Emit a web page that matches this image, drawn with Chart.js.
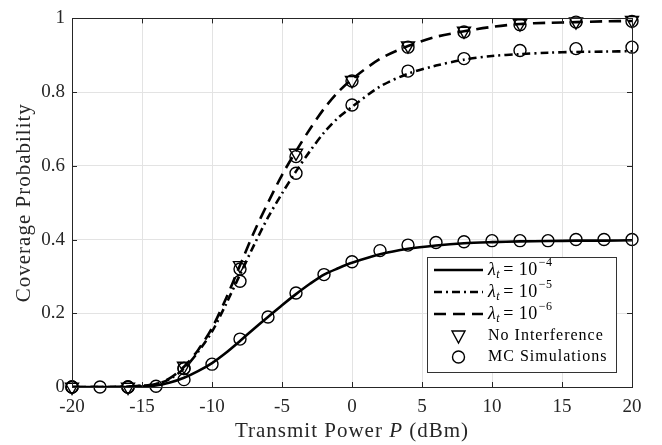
<!DOCTYPE html>
<html lang="en">
<head>
  <meta charset="UTF-8" />
  <title>Coverage Probability vs Transmit Power</title>
  <script src="https://cdn.jsdelivr.net/npm/chart.js"></script>
  <style>
    html, body { margin: 0; padding: 0; background: #fff; }
    #wrap { width: 662px; height: 445px; }
  </style>
</head>
<body>
<div id="wrap"><canvas id="cov" width="662" height="445"></canvas></div>
<script>
// theory curves
const xTheory = [-20, -18, -16, -14, -13, -12, -11, -10, -9, -8, -7, -6, -5, -4, -3, -2, -1, 0, 2, 4, 6, 8, 10, 12, 14, 16, 18, 20];
const lambda4 = [0, 0, 0, 0.004, 0.012, 0.025, 0.043, 0.065, 0.093, 0.125, 0.158, 0.19, 0.222, 0.252, 0.28, 0.305, 0.322, 0.337, 0.36, 0.375, 0.384, 0.39, 0.393, 0.395, 0.396, 0.397, 0.397, 0.398];
const lambda5 = [0, 0, 0.001, 0.008, 0.022, 0.05, 0.095, 0.15, 0.225, 0.305, 0.385, 0.46, 0.525, 0.585, 0.64, 0.69, 0.73, 0.76, 0.815, 0.85, 0.872, 0.888, 0.898, 0.903, 0.907, 0.909, 0.91, 0.911];
const lambda6 = [0, 0, 0.001, 0.008, 0.024, 0.055, 0.1, 0.16, 0.24, 0.33, 0.42, 0.5, 0.575, 0.64, 0.7, 0.755, 0.8, 0.835, 0.89, 0.925, 0.95, 0.965, 0.977, 0.985, 0.988, 0.99, 0.992, 0.993];

// simulation / no-interference markers
const xSim4 = [-20, -18, -16, -14, -12, -10, -8, -6, -4, -2, 0, 2, 4, 6, 8, 10, 12, 14, 16, 18, 20];
const sim4 = [0, 0, 0, 0.002, 0.02, 0.062, 0.13, 0.19, 0.255, 0.305, 0.34, 0.37, 0.385, 0.392, 0.394, 0.397, 0.397, 0.397, 0.4, 0.4, 0.4];
const xSim = [-20, -16, -12, -8, -4, 0, 4, 8, 12, 16, 20];
const sim5 = [0, 0, 0.05, 0.287, 0.58, 0.765, 0.857, 0.891, 0.913, 0.918, 0.922];
const sim6 = [0, 0, 0.05, 0.32, 0.625, 0.83, 0.922, 0.963, 0.983, 0.99, 0.992];
const noInterf = [0, 0, 0.057, 0.33, 0.635, 0.832, 0.926, 0.966, 0.986, 0.991, 0.995];

const xTicks = [-20, -15, -10, -5, 0, 5, 10, 15, 20];
const yTicks = [0, 0.2, 0.4, 0.6, 0.8, 1];

const FONT = '"Liberation Serif", "DejaVu Serif", serif';
const INK = '#262626';

const pts = (xs, ys) => xs.map((x, i) => ({ x, y: ys[i] }));

const lineDs = (label, ys, dash) => ({
  label, data: pts(xTheory, ys), borderColor: '#000', borderWidth: 2.6,
  borderDash: dash, pointRadius: 0, fill: false, tension: 0.3, order: 2
});
const markDs = (label, xs, ys, style) => ({
  label, data: pts(xs, ys), showLine: false, pointStyle: style,
  pointRotation: style === 'triangle' ? 180 : 0,
  pointRadius: style === 'triangle' ? 7.5 : 6, pointBorderWidth: 1.4,
  pointBorderColor: '#000', pointBackgroundColor: 'rgba(0,0,0,0)', order: 1, clip: false
});

// draws text in pieces [text, font, dy]
const drawRuns = (ctx, runs, x, y) => {
  runs.forEach(r => {
    ctx.font = r[1];
    ctx.fillText(r[0], x, y + (r[2] || 0));
    x += ctx.measureText(r[0]).width + (r[3] || 0);
  });
  return x;
};
const runsWidth = (ctx, runs) => runs.reduce((w, r) => { ctx.font = r[1]; return w + ctx.measureText(r[0]).width + (r[3] || 0); }, 0);

// inward ticks, top/right box, axis titles and the boxed legend
const decor = {
  id: 'decor',
  afterDraw(chart) {
    const { ctx, chartArea: a, scales } = chart;
    ctx.save();
    ctx.strokeStyle = INK;
    ctx.lineWidth = 1;
    ctx.beginPath();
    xTicks.forEach(v => {
      const px = Math.round(scales.x.getPixelForValue(v)) + 0.5;
      ctx.moveTo(px, a.bottom); ctx.lineTo(px, a.bottom - 5);
      ctx.moveTo(px, a.top); ctx.lineTo(px, a.top + 5);
    });
    yTicks.forEach(v => {
      const py = Math.round(scales.y.getPixelForValue(v)) + 0.5;
      ctx.moveTo(a.left, py); ctx.lineTo(a.left + 5, py);
      ctx.moveTo(a.right, py); ctx.lineTo(a.right - 5, py);
    });
    ctx.stroke();
    ctx.strokeRect(Math.round(a.left) + 0.5, Math.round(a.top) + 0.5, Math.round(a.right - a.left), Math.round(a.bottom - a.top));

    // axis titles
    ctx.fillStyle = INK;
    ctx.textBaseline = 'alphabetic';
    ctx.letterSpacing = '1px';
    const f = '21px ' + FONT;
    const xt = [['Transmit Power ', f], ['P', 'italic ' + f], [' (dBm)', f]];
    drawRuns(ctx, xt, (a.left + a.right) / 2 - runsWidth(ctx, xt) / 2, 437);
    const yt = [['Coverage Probability', f]];
    ctx.save();
    ctx.translate(30, (a.top + a.bottom) / 2);
    ctx.rotate(-Math.PI / 2);
    drawRuns(ctx, yt, -runsWidth(ctx, yt) / 2, 0);
    ctx.restore();

    // legend
    const bx = 427.5, by = 257.5, bw = 189, bh = 115;
    ctx.fillStyle = '#fff';
    ctx.fillRect(bx, by, bw, bh);
    ctx.strokeStyle = '#333';
    ctx.strokeRect(bx, by, bw, bh);
    const rows = [270, 292, 314, 336, 357];
    const x0 = 434, x1 = 483, tx0 = 488;
    const dashes = [[], [8, 4, 2, 4], [12, 7]];
    const exps = ['\u22124', '\u22125', '\u22126'];
    ctx.strokeStyle = '#000';
    ctx.fillStyle = '#000';
    ctx.textBaseline = 'middle';
    ctx.letterSpacing = '0.5px';
    for (let i = 0; i < 3; i++) {
      const y = rows[i];
      ctx.lineWidth = 2.6;
      ctx.setLineDash(dashes[i]);
      ctx.beginPath(); ctx.moveTo(x0, y); ctx.lineTo(x1, y); ctx.stroke();
      ctx.setLineDash([]);
      drawRuns(ctx, [
        ['\u03bb', 'italic 18px ' + FONT, 0],
        ['t', 'italic 12px ' + FONT, 5, 3],
        ['= 10', '18px ' + FONT, 0, 1],
        [exps[i], '12px ' + FONT, -7]
      ], tx0, y);
    }
    const mx = (x0 + x1) / 2;
    ctx.lineWidth = 1.4;
    ctx.beginPath();
    ctx.moveTo(mx - 6.5, rows[3] - 5); ctx.lineTo(mx + 6.5, rows[3] - 5); ctx.lineTo(mx, rows[3] + 7); ctx.closePath(); ctx.stroke();
    ctx.beginPath(); ctx.arc(mx, rows[4], 6, 0, Math.PI * 2); ctx.stroke();
    ctx.letterSpacing = '1px';
    ctx.font = '16px ' + FONT;
    ctx.fillText('No Interference', tx0, rows[3]);
    ctx.fillText('MC Simulations', tx0, rows[4]);
    ctx.restore();
  }
};

new Chart(document.getElementById('cov'), {
  type: 'line',
  data: {
    datasets: [
      lineDs('\u03bbt = 10^-4', lambda4, []),
      lineDs('\u03bbt = 10^-5', lambda5, [8, 4, 2, 4]),
      lineDs('\u03bbt = 10^-6', lambda6, [12, 7]),
      markDs('No Interference', xSim, noInterf, 'triangle'),
      markDs('MC Simulations', xSim4, sim4, 'circle'),
      markDs('MC Simulations 5', xSim, sim5, 'circle'),
      markDs('MC Simulations 6', xSim, sim6, 'circle')
    ]
  },
  options: {
    responsive: false,
    animation: false,
    layout: { padding: { top: 14, right: 30, left: 0, bottom: 0 } },
    plugins: { legend: { display: false }, tooltip: { enabled: false } },
    scales: {
      x: {
        type: 'linear', min: -20, max: 20,
        afterBuildTicks: s => { s.ticks = xTicks.map(v => ({ value: v })); },
        afterFit: s => { s.height = 58; },
        grid: { color: '#e3e3e3', drawTicks: false },
        border: { color: INK },
        ticks: { color: INK, padding: 9, font: { family: FONT, size: 19 }, maxRotation: 0 }
      },
      y: {
        min: 0, max: 1,
        afterBuildTicks: s => { s.ticks = yTicks.map(v => ({ value: v })); },
        afterFit: s => { s.width = 72; },
        grid: { color: '#e3e3e3', drawTicks: false },
        border: { color: INK },
        ticks: { color: INK, padding: 7, font: { family: FONT, size: 19 }, callback: v => String(v) }
      }
    }
  },
  plugins: [decor]
});
</script>
</body>
</html>
